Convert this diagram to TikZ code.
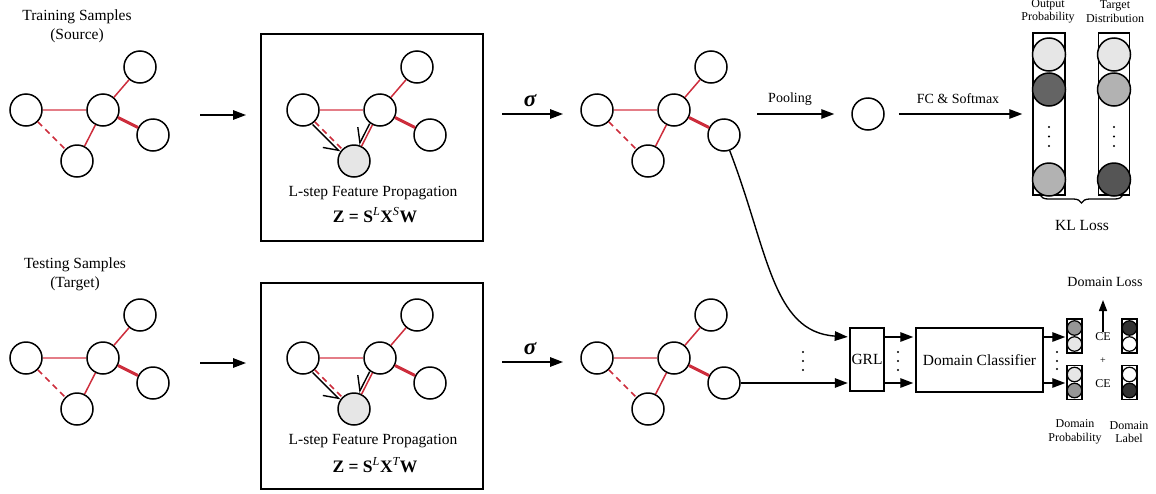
\documentclass[tikz,border=0pt]{standalone}
\usepackage{fontspec}
\setmainfont{Liberation Serif}
\usetikzlibrary{arrows.meta,decorations.pathreplacing,calc}
\definecolor{cred}{RGB}{205,45,60}
\definecolor{clight}{RGB}{228,125,135}
\definecolor{cggray}{RGB}{230,230,230}
\definecolor{cdgray}{RGB}{100,100,100}
\definecolor{cmgray}{RGB}{178,178,178}
\definecolor{cddark}{RGB}{85,85,85}
\definecolor{cpgray}{RGB}{150,150,150}
\definecolor{cldark}{RGB}{50,50,50}
\newcommand\fmain{\fontsize{15.5}{19}\selectfont}
\newcommand\fform{\fontsize{17.5}{20}\selectfont}
\newcommand\fmid{\fontsize{14}{17}\selectfont}
\newcommand\fsm{\fontsize{12}{13.5}\selectfont}
\newcommand\graphnodes[4]{%
  \node[gnode] (#1a) at ({26+#2},{110+#3}) {};
  \node[gnode] (#1b) at ({103+#2},{110+#3}) {};
  \node[gnode] (#1c) at ({140+#2},{67+#3}) {};
  \node[gnode] (#1d) at ({153+#2},{135+#3}) {};
  \node[gnode,fill=#4] (#1e) at ({77+#2},{161+#3}) {};
  \draw[edgeL] (#1a) -- (#1b);
  \draw[edgeD] (#1a) -- (#1e);
  \draw[edgeR] (#1b) -- (#1e);
  \draw[edgeR] (#1b) -- (#1c);
  \draw[edgeT] (#1b) -- (#1d);
}
\begin{document}
\begin{tikzpicture}[x=1pt,y=-1pt,
  gnode/.style={circle,draw,line width=1.5pt,minimum size=32pt,inner sep=0pt,fill=white},
  edgeL/.style={clight,line width=1.4pt},
  edgeD/.style={cred,line width=1.5pt,dash pattern=on 6pt off 4.5pt},
  edgeR/.style={cred,line width=1.5pt},
  edgeT/.style={cred,line width=3pt},
  harp/.style={line width=1.4pt,-{Straight Barb[harpoon,swap,length=13pt,width=18pt,line width=1.4pt]}},
  arr/.style={line width=1.4pt,-{Triangle[length=13pt,width=9.5pt]}},
  arrs/.style={line width=1.4pt,-{Triangle[length=11pt,width=8pt]}},
  bigbox/.style={draw,line width=1.6pt,inner sep=0pt,minimum width=222pt},
  colbox/.style={draw,line width=1.5pt,inner sep=0pt,minimum width=32pt,minimum height=162pt},
  pcirc/.style={circle,draw,line width=1.5pt,minimum size=33pt,inner sep=0pt},
  sbox/.style={draw,line width=1.5pt,inner sep=0pt,minimum width=15pt,minimum height=34pt},
  scirc/.style={circle,draw,line width=1.2pt,minimum size=14.5pt,inner sep=0pt},
  txt/.style={inner sep=1pt,align=center}
]
\useasboundingbox (0,0) rectangle (1156,493);

% ---- left labels
\node[txt,font=\fmain] (lab1) at (77,26.5) {Training Samples\\(Source)};
\node[txt,font=\fmain] (lab2) at (75,274.5) {Testing Samples\\(Target)};

% ---- boxes
\node[bigbox,minimum height=207pt] (box1) at (372,137.5) {};
\node[bigbox,minimum height=206pt] (box2) at (372,386) {};

% ---- graphs
\graphnodes{s1}{0}{0}{white}
\graphnodes{s2}{277}{0}{cggray}
\graphnodes{s3}{571}{0}{white}
\graphnodes{t1}{0}{248}{white}
\graphnodes{t2}{277}{248}{cggray}
\graphnodes{t3}{571}{248}{white}

% ---- propagation arrows inside boxes
\draw[harp,transform canvas={shift={(-2.2pt,-2.7pt)}}] (s2a) -- (s2e);
\draw[harp,transform canvas={shift={(-2.7pt,1.3pt)}}] (s2b) -- (s2e);
\draw[harp,transform canvas={shift={(-2.2pt,-2.7pt)}}] (t2a) -- (t2e);
\draw[harp,transform canvas={shift={(-2.7pt,1.3pt)}}] (t2b) -- (t2e);

\node[txt,font=\fmain] (lsp1) at (373,193) {L-step Feature Propagation};
\node[txt,font=\fform] (frm1) at (375,215) {\bfseries Z = S\textsuperscript{\mdseries\itshape L}X\textsuperscript{\mdseries\itshape S}W};
\node[txt,font=\fmain] (lsp2) at (373,441) {L-step Feature Propagation};
\node[txt,font=\fform] (frm2) at (375,465) {\bfseries Z = S\textsuperscript{\mdseries\itshape L}X\textsuperscript{\mdseries\itshape T}W};

% ---- arrows between stages
\coordinate (a1s) at (200,115); \coordinate (a1e) at (246,115);
\coordinate (a2s) at (200,363); \coordinate (a2e) at (246,363);
\draw[arr] (a1s) -- (a1e);
\draw[arr] (a2s) -- (a2e);

\coordinate (g1s) at (502,114); \coordinate (g1e) at (563,114);
\coordinate (g2s) at (502,362); \coordinate (g2e) at (563,362);
\draw[arr] (g1s) -- (g1e);
\draw[arr] (g2s) -- (g2e);
\node[inner sep=0pt] (sig1) at (530,101) {\fontsize{23}{23}\selectfont\bfseries\itshape σ};
\node[inner sep=0pt] (sig2) at (530,349) {\fontsize{23}{23}\selectfont\bfseries\itshape σ};

% ---- pooling and FC
\node[gnode] (pool) at (868,114) {};
\coordinate (pl0) at (757,114);
\draw[arr] (pl0) -- ([xshift=-17pt]pool.west);
\node[txt,font=\fmid] (plab) at (790,99) {Pooling};

\node[colbox] (op) at (1049,114) {};
\node[colbox,minimum width=31pt] (td) at (1114,114) {};
\node[pcirc,fill=cggray] (op1) at (1049,54.5) {};
\node[pcirc,fill=cdgray] (op2) at (1049,89.5) {};
\node[pcirc,fill=cmgray] (op3) at (1049,179.5) {};
\node[pcirc,fill=cggray] (td1) at (1114,54.5) {};
\node[pcirc,fill=cmgray] (td2) at (1114,89.5) {};
\node[pcirc,fill=cddark] (td3) at (1114,179.5) {};
\foreach \yy in {127,136.5,146} {
  \fill (1049,\yy) circle (1.1pt);
  \fill (1114,\yy) circle (1.1pt);
}
\draw[arr] ([xshift=14pt]pool.east) -- ([xshift=-10pt]op.west);
\node[txt,font=\fmid] (fclab) at (958,99) {FC \& Softmax};

\node[txt,font=\fsm] (oplab) at (1048,11.5) {Output\\Probability};
\node[txt,font=\fsm] (tdlab) at (1115,11.5) {Target\\Distribution};

\draw[decorate,decoration={brace,amplitude=8pt,mirror},line width=1.3pt] (1040,195) -- (1123,195);
\node[txt,font=\fmain] (kl) at (1082,225) {KL Loss};

% ---- domain branch
\coordinate (r1) at (0,337);
\coordinate (r2) at (0,383);
\node[draw,line width=1.5pt,inner sep=0pt,minimum width=34pt,minimum height=63pt,font=\fmain] (grl) at (867,359.5) {GRL};
\node[draw,line width=1.5pt,inner sep=0pt,minimum width=127pt,minimum height=64pt,font=\fmain] (dc) at (979.5,360) {Domain Classifier};

\draw[arr,shorten >=1.5pt] (s3d.-70) .. controls (768,250) and (772,332) .. (grl.west |- r1);
\draw[arr,shorten >=1.5pt] (t3d.east) -- (grl.west |- r2);
\foreach \yy in {352,361,370} \fill (803,\yy) circle (1.1pt);

\draw[arr,shorten >=2pt] (grl.east |- r1) -- (dc.west |- r1);
\draw[arr,shorten >=2pt] (grl.east |- r2) -- (dc.west |- r2);
\foreach \yy in {352,361,370} \fill (898,\yy) circle (1.1pt);

\node[sbox] (dp1) at (1074.5,336) {};
\node[sbox] (dp2) at (1074.5,382.5) {};
\node[sbox] (dl1) at (1129.5,336) {};
\node[sbox] (dl2) at (1129.5,382.5) {};
\node[scirc,fill=cpgray] (dp1a) at (1074.5,328) {};
\node[scirc,fill=cggray] (dp1b) at (1074.5,344) {};
\node[scirc,fill=cggray] (dp2a) at (1074.5,374.5) {};
\node[scirc,fill=cpgray] (dp2b) at (1074.5,390.5) {};
\node[scirc,fill=cldark] (dl1a) at (1129.5,328) {};
\node[scirc,fill=white] (dl1b) at (1129.5,344) {};
\node[scirc,fill=white] (dl2a) at (1129.5,374.5) {};
\node[scirc,fill=cldark] (dl2b) at (1129.5,390.5) {};

\draw[arr,shorten >=1pt] (dc.east |- r1) -- (dp1.west |- r1);
\draw[arr,shorten >=1pt] (dc.east |- r2) -- (dp2.west |- r2);
\foreach \yy in {352,361,369} \fill (1057,\yy) circle (1.1pt);

\node[txt,font=\fsm] (ce1) at (1103,337) {CE};
\node[txt,font=\fsm] (ce2) at (1103,384) {CE};
\node[txt,font=\fontsize{10}{10}\selectfont] (plus) at (1103,361) {+};
\node[txt,font=\fmid] (dloss) at (1105,282) {Domain Loss};
\coordinate (dlt) at (1103,300);
\draw[arrs] (ce1.north) -- (dlt);

\node[txt,font=\fsm] (dplab) at (1075,432) {Domain\\Probability};
\node[txt,font=\fsm] (dllab) at (1129,432) {Domain\\Label};
\end{tikzpicture}
\end{document}
